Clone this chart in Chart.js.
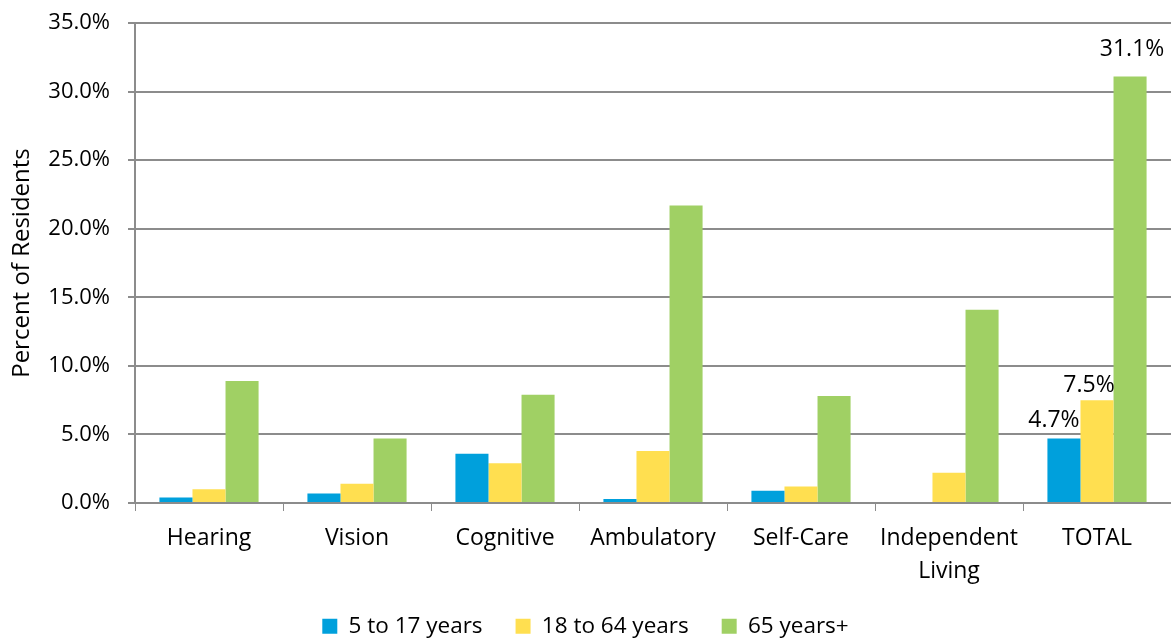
<!DOCTYPE html>
<html>
<head>
<meta charset="utf-8">
<script src="https://cdn.jsdelivr.net/npm/chart.js@4/dist/chart.umd.min.js"></script>
<style>
  html, body { margin: 0; padding: 0; background: #fff; }
  #wrap { width: 1171px; height: 638px; }
</style>
</head>
<body>
<div id="wrap"><canvas id="c"></canvas></div>
<script>
const categories = ["Hearing", "Vision", "Cognitive", "Ambulatory", "Self-Care", ["Independent", "Living"], "TOTAL"];
const youth = [0.4, 0.7, 3.6, 0.3, 0.9, 0, 4.7];
const adults = [1.0, 1.4, 2.9, 3.8, 1.2, 2.2, 7.5];
const seniors = [8.9, 4.7, 7.9, 21.7, 7.8, 14.1, 31.1];
const labelledIndex = 6; // only TOTAL carries value labels

const gridGrey = "#8c8c8c";
const font = "'Open Sans', sans-serif";

// value labels over the TOTAL bars; Excel nudged the first two a bit left
const labelNudge = [[-10, 12], [-8, 8], [2, 20]];
const totalLabels = {
  id: "totalLabels",
  afterDatasetsDraw(chart) {
    const ctx = chart.ctx;
    ctx.save();
    ctx.font = "23px " + font;
    ctx.fillStyle = "#000";
    ctx.textAlign = "center";
    ctx.textBaseline = "alphabetic";
    chart.data.datasets.forEach((ds, i) => {
      const bar = chart.getDatasetMeta(i).data[labelledIndex];
      const [dx, dy] = labelNudge[i];
      ctx.fillText(ds.data[labelledIndex].toFixed(1) + "%", bar.x + dx, bar.y - dy);
    });
    ctx.restore();
  }
};

// shorter legend box (so the x labels are not clipped), drawn a little higher
const legendHeight = {
  id: "legendHeight",
  afterInit(chart) {
    const lg = chart.legend;
    const fit = lg.fit;
    lg.fit = function () { fit.call(this); this.height = 51; };
  },
  afterLayout(chart) {
    chart.legend.top -= 5;
  }
};

new Chart(document.getElementById("c"), {
  type: "bar",
  data: {
    labels: categories,
    datasets: [
      { label: "5 to 17 years", data: youth, backgroundColor: "#00A0DC" },
      { label: "18 to 64 years", data: adults, backgroundColor: "#FFDF50" },
      { label: "65 years+", data: seniors, backgroundColor: "#A0D064" }
    ]
  },
  options: {
    responsive: true,
    maintainAspectRatio: false,
    animation: false,
    layout: { padding: { top: 23, right: 0, left: 0, bottom: 0 } },
    datasets: { bar: { barPercentage: 1, categoryPercentage: 0.67 } },
    plugins: {
      tooltip: { enabled: false },
      legend: {
        position: "bottom",
        labels: {
          boxWidth: 15,
          boxHeight: 15,
          padding: 33,
          color: "#000",
          font: { family: font, size: 22.5 }
        }
      }
    },
    scales: {
      x: {
        afterFit(scale) { scale.height = 84; },
        grid: {
          offset: true,
          drawOnChartArea: false,
          color: gridGrey,
          tickLength: 8
        },
        border: { color: gridGrey, width: 2 },
        ticks: {
          color: "#000",
          padding: 11,
          maxRotation: 0,
          font: { family: font, size: 23, lineHeight: 1.43 }
        }
      },
      y: {
        min: 0,
        max: 35,
        afterFit(scale) {
          scale.width = 135;
          scale.paddingTop = 0;
          scale.paddingBottom = 0;
        },
        grid: { color: gridGrey, lineWidth: 2, tickLength: 7 },
        border: { color: gridGrey, width: 2 },
        ticks: {
          stepSize: 5,
          color: "#000",
          padding: 18,
          font: { family: font, size: 22 },
          callback: v => v.toFixed(1) + "%"
        },
        title: {
          display: true,
          text: "Percent of Residents",
          color: "#000",
          padding: { top: 8, bottom: 0 },
          font: { family: font, size: 24 }
        }
      }
    }
  },
  plugins: [totalLabels, legendHeight]
});
</script>
</body>
</html>
